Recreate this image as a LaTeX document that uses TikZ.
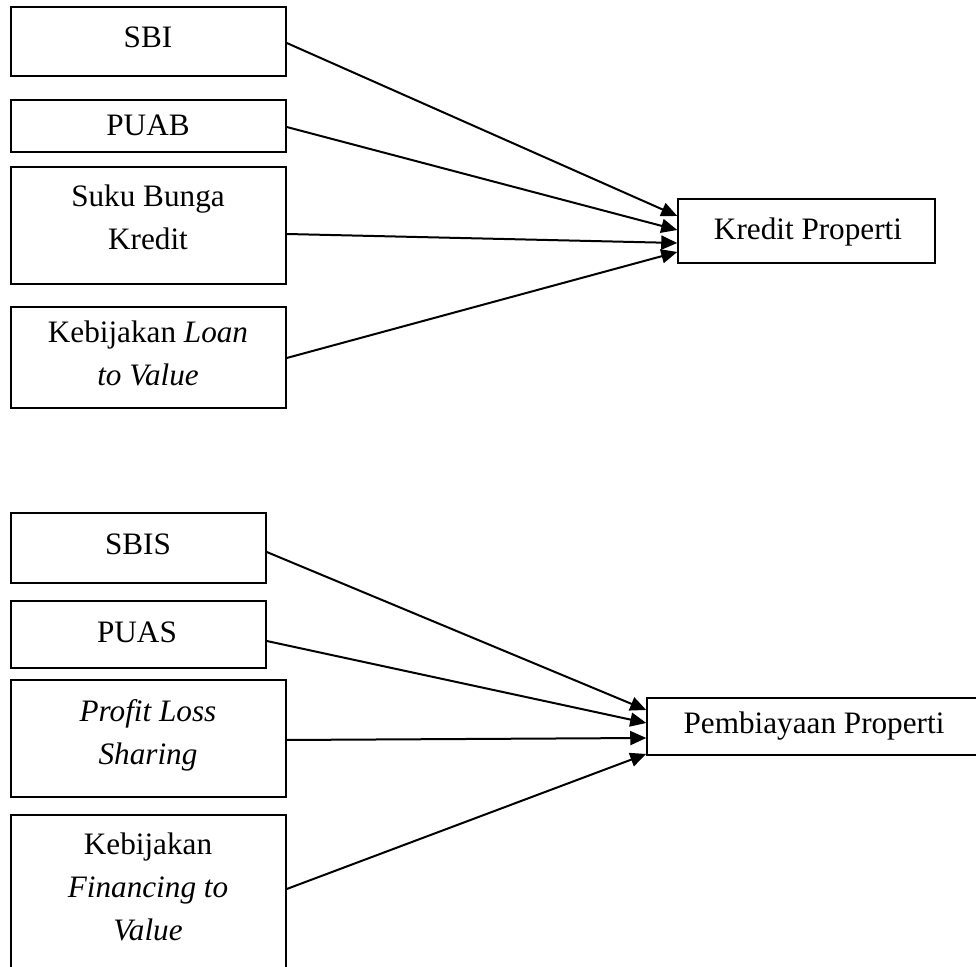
\documentclass[tikz,border=0pt]{standalone}
\usepackage{fontspec}
\setmainfont{Liberation Serif}
\usetikzlibrary{arrows.meta,fit}
\begin{document}
\begin{tikzpicture}[x=0.5pt,y=-0.5pt,
  box/.style={draw=black,line width=0.75pt,inner sep=0pt,rectangle},
  lbl/.style={inner sep=0pt,align=center,font=\fontsize{15.6}{21.5}\selectfont},
  arr/.style={line width=1pt,-{Triangle[length=8pt,width=7pt]}}]
\useasboundingbox (0,0) rectangle (976,967);
\clip (0,0) rectangle (976,967);

% upper model: conventional property credit
\node[box,fit={(11,7) (286,76)}]    (sbi)  {};
\node[box,fit={(11,100) (286,152)}] (puab) {};
\node[box,fit={(11,167) (286,284)}] (suku) {};
\node[box,fit={(11,307) (286,408)}] (ltv)  {};
\node[box,fit={(678,199) (935,263)}] (kp)  {};

\node[lbl] (tsbi)  at (148,37.5) {SBI};
\node[lbl] (tpuab) at (148,125.5) {PUAB};
\node[lbl] (tsuku) at (148,217)  {Suku Bunga\\Kredit};
\node[lbl] (tltv)  at (148,353)  {Kebijakan \textit{Loan}\\\textit{to Value}};
\node[lbl] (tkp)   at (808,232.5) {Kredit Properti};

\draw[arr] ([yshift=-0.75pt]sbi.east)  -- ([yshift=7.5pt]kp.west);
\draw[arr] ([yshift=-0.5pt]puab.east)  -- ([yshift=0.5pt]kp.west);
\draw[arr] ([yshift=-4.25pt]suku.east) -- ([yshift=-6pt]kp.west);
\draw[arr] ([yshift=-0.25pt]ltv.east)  -- ([yshift=-10.5pt]kp.west);

% lower model: sharia property financing
\node[box,fit={(11,513) (266,583)}] (sbis) {};
\node[box,fit={(11,601) (266,668)}] (puas) {};
\node[box,fit={(11,680) (286,797)}] (pls)  {};
\node[box,fit={(11,815) (286,985)}] (ftv)  {};
\node[box,fit={(647,698) (995,755)}] (pp)  {};

\node[lbl] (tsbis) at (138,544) {SBIS};
\node[lbl] (tpuas) at (137,632.5) {PUAS};
\node[lbl] (tpls)  at (148,735)   {\textit{Profit Loss}\\\textit{Sharing}};
\node[lbl] (tftv)  at (148,887)   {Kebijakan\\\textit{Financing to}\\\textit{Value}};
\node[lbl] (tpp)   at (814,726)   {Pembiayaan Properti};

\draw[arr] ([yshift=-2pt]sbis.east)   -- ([yshift=8.25pt]pp.west);
\draw[arr] ([yshift=-3.25pt]puas.east) -- ([yshift=1.75pt]pp.west);
\draw[arr] ([yshift=-0.75pt]pls.east)  -- ([yshift=-5.75pt]pp.west);
\draw[arr] ([yshift=5.5pt]ftv.east)    -- ([yshift=-13.75pt]pp.west);
\end{tikzpicture}
\end{document}
